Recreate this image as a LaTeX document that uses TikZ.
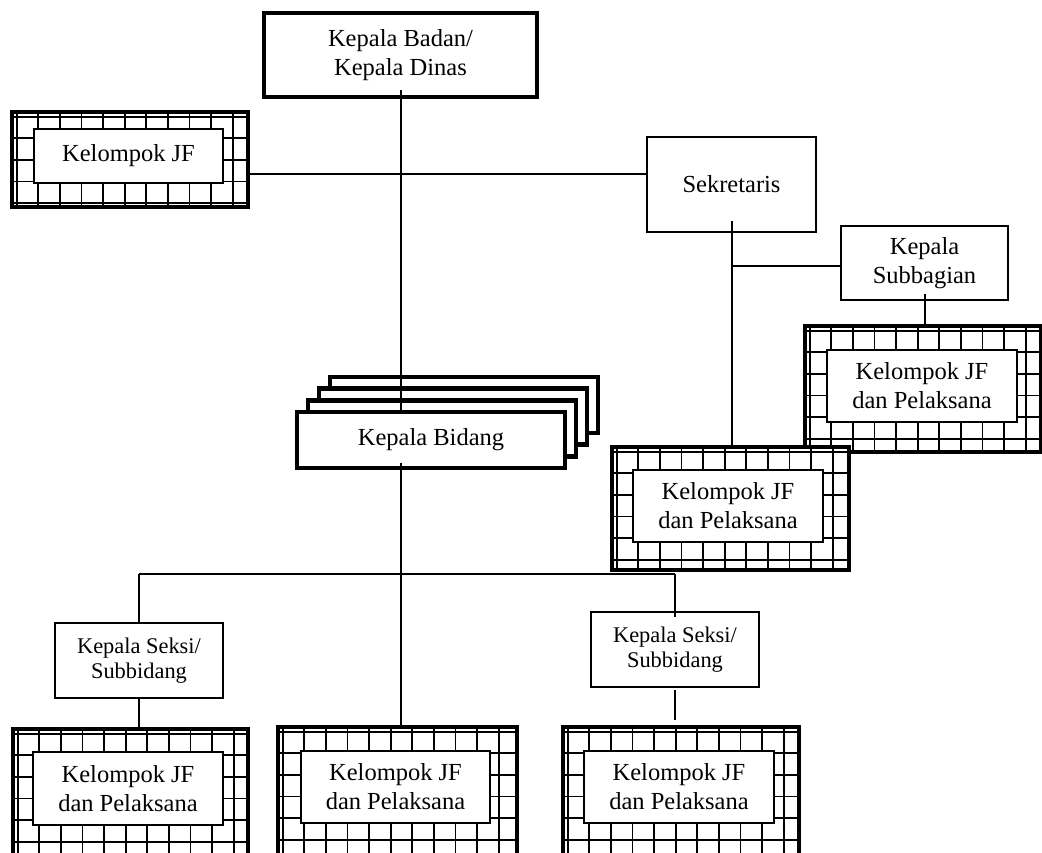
\documentclass[tikz,border=0pt]{standalone}
\usepackage{fontspec}
\setmainfont{Liberation Serif}
\usetikzlibrary{calc}
\begin{document}
\begin{tikzpicture}[x=1pt,y=-1pt,
  font=\fontsize{24.5}{29}\selectfont,
  thickbox/.style={draw, line width=4.5pt, fill=white, align=center, inner sep=0pt},
  thinbox/.style={draw, line width=2.5pt, fill=white, align=center, inner sep=0pt},
  smalltext/.style={font=\fontsize{22.4}{25}\selectfont},
  conn/.style={line width=2pt},
  gridline/.style={line width=1.9pt},
  gridbox/.style={draw, line width=4.5pt, fill=white, inner sep=0pt, path picture={
     \foreach \k in {0,...,11} {
       \draw[gridline] ([xshift=4.7pt+\k*21.6pt]path picture bounding box.north west) -- ([xshift=4.7pt+\k*21.6pt]path picture bounding box.south west);
     }
     \foreach \k in {0,...,6} {
       \draw[gridline] ([yshift=-4.7pt-\k*21.6pt]path picture bounding box.north west) -- ([yshift=-4.7pt-\k*21.6pt]path picture bounding box.north east);
     }
  }},
  innerbox/.style={draw, line width=1.2pt, fill=white, align=center, inner sep=0pt},
]
\clip (0,0) rectangle (1042,852);
\fill[white] (0,0) rectangle (1042,852);

% top
\node[thickbox, minimum width=273pt, minimum height=84pt] (kb) at (400.5,55) {Kepala Badan/\\Kepala Dinas};

% Kelompok JF top-left
\node[gridbox, minimum width=236pt, minimum height=95pt] (tl) at (130,159.5) {};
\node[innerbox, minimum width=189pt, minimum height=54pt] (tlt) at (128.5,156) {Kelompok JF};

% Sekretaris and Subbagian
\node[thinbox, minimum width=169pt, minimum height=95pt] (sek) at (731.5,184.5) {Sekretaris};
\node[thinbox, minimum width=167pt, minimum height=74pt] (sub) at (924.5,263) {Kepala\\Subbagian};

% right Kelompok boxes
\node[gridbox, minimum width=236pt, minimum height=126pt] (rk) at (923,389) {};
\node[innerbox, minimum width=190pt, minimum height=72pt] (rkt) at (922,386) {Kelompok JF\\dan Pelaksana};
\node[gridbox, minimum width=237pt, minimum height=123pt] (mk) at (730.5,508.5) {};
\node[innerbox, minimum width=190pt, minimum height=72pt] (mkt) at (728,506) {Kelompok JF\\dan Pelaksana};

% Kepala Bidang stack
\node[thickbox, minimum width=268pt, minimum height=56pt] (bid3) at (464,405) {};
\node[thickbox, minimum width=268pt, minimum height=56pt] (bid2) at (453,416.6) {};
\node[thickbox, minimum width=268pt, minimum height=56pt] (bid1) at (442,428.3) {};
\node[thickbox, minimum width=268pt, minimum height=56pt] (bid) at (431,440) {Kepala Bidang};

% Kepala Seksi
\node[thinbox, smalltext, minimum width=168pt, minimum height=75pt] (s1) at (139,660.5) {Kepala Seksi/\\Subbidang};
\node[thinbox, smalltext, minimum width=168pt, minimum height=75pt] (s2) at (675,649.5) {Kepala Seksi/\\Subbidang};

% bottom Kelompok boxes
\node[gridbox, minimum width=235pt, minimum height=128pt] (bl) at (130.5,793) {};
\node[innerbox, minimum width=190pt, minimum height=73pt] (blt) at (128,788.5) {Kelompok JF\\dan Pelaksana};
\node[gridbox, minimum width=239pt, minimum height=128pt] (bm) at (397.5,791) {};
\node[innerbox, minimum width=189pt, minimum height=72pt] (bmt) at (395.5,787) {Kelompok JF\\dan Pelaksana};
\node[gridbox, minimum width=236pt, minimum height=128pt] (br) at (681,791) {};
\node[innerbox, minimum width=190pt, minimum height=72pt] (brt) at (679,787) {Kelompok JF\\dan Pelaksana};

% connectors
\coordinate (h1) at (0,174);
\coordinate (h2) at (0,266);
\coordinate (bus) at (0,574);
\coordinate (bv) at ([yshift=7pt]bid.south);

\draw[conn] ([yshift=9pt]kb.south) -- (kb.south |- bid.north);
\draw[conn] (tl.east |- h1) -- (sek.west |- h1);
\draw[conn] ([yshift=12pt]sek.south) -- (sek.south |- mk.north);
\draw[conn] (sek.south |- h2) -- (sub.west |- h2);
\draw[conn] ([yshift=7pt]sub.south) -- (sub.south |- rk.north);
\draw[conn] (bv -| kb.south) -- (kb.south |- bm.north);
\draw[conn] (s1.north |- bus) -- (s2.north |- bus);
\draw[conn] (s1.north |- bus) -- (s1.north);
\draw[conn] (s2.north |- bus) -- ([yshift=-6pt]s2.north);
\draw[conn] (s1.south) -- (s1.south |- bl.north);
\coordinate (s2b) at ([yshift=-2pt]s2.south);
\coordinate (brt0) at ([yshift=5pt]br.north);
\draw[conn] (s2b) -- (s2b |- brt0);
\end{tikzpicture}
\end{document}
